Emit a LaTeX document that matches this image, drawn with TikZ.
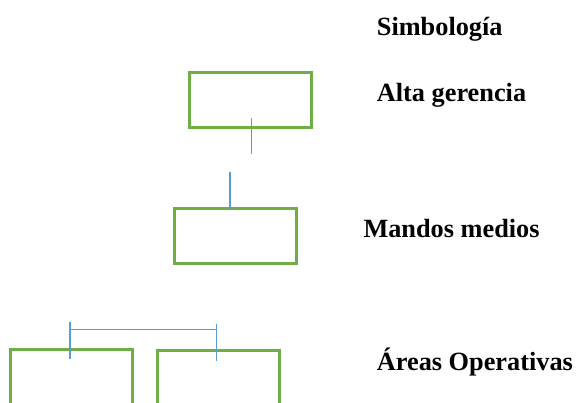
\documentclass[tikz,border=0pt]{standalone}
\usepackage{fontspec}
\setmainfont{Liberation Serif}
\definecolor{boxgreen}{HTML}{70AD47}
\definecolor{linkblue}{HTML}{5B9BD5}
\begin{document}
\begin{tikzpicture}[x=1pt,y=-1pt,
  level/.style={draw=boxgreen,line width=3pt,minimum width=122pt,minimum height=55pt,inner sep=0pt,outer sep=0pt},
  link/.style={draw=linkblue,line width=1.5pt},
  label/.style={anchor=base west,inner sep=0pt,font=\fontsize{26.3}{30}\selectfont\bfseries}]
\clip (0,0) rectangle (580,402);
\fill[white] (0,0) rectangle (580,402);

% boxes
\node[level] (alta) at (250.8,99.5) {};
\node[level] (medios) at (235.9,236) {};
\node[level] (opA) at (71.5,376.5) {};
\node[level] (opB) at (218,378) {};

% connectors
\coordinate (a1) at (251.7,118);
\coordinate (a2) at (251.7,154);
\draw[link] (a1) -- (a2);
\coordinate (m1) at (230,172);
\draw[link] (m1) -- (m1 |- medios.north);

\coordinate (bl) at (70,329.7);
\coordinate (br) at (216.7,329.7);
\draw[link] (bl) -- (br);
\draw[link] (70,322) -- (70,359);
\draw[link] (216.7,324) -- (216.7,360.7);

% legend text
\node[label] (t0) at (376.7,35) {Simbología};
\node[label] (t1) at (376.7,101.7) {Alta gerencia};
\node[label] (t2) at (363.3,237.3) {Mandos medios};
\node[label] (t3) at (376.7,370.7) {Áreas Operativas};
\end{tikzpicture}
\end{document}
